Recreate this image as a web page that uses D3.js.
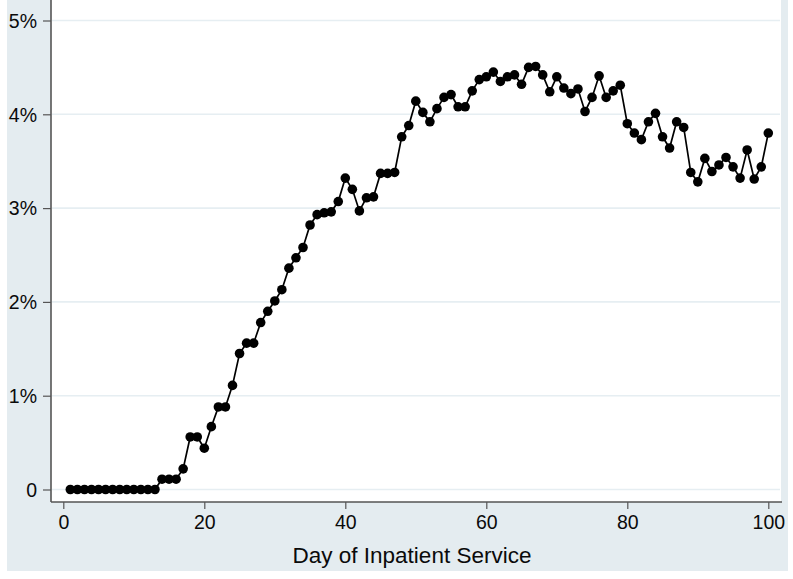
<!DOCTYPE html>
<html>
<head>
<meta charset="utf-8">
<script src="https://cdn.jsdelivr.net/npm/d3@7"></script>
<style>
  html, body { margin: 0; padding: 0; background: #fff; }
  svg text { font-family: "Liberation Sans", Arial, Helvetica, sans-serif; fill: #0a0a0a; }
</style>
</head>
<body>
<div id="graphicContainer"></div>
<script>

// share of patients (%) by day of inpatient service
var days = d3.range(1, 101)
var pct = [
	0, 0, 0, 0, 0, 0, 0, 0, 0, 0,
	0, 0, 0, 0.11, 0.11, 0.11, 0.22, 0.56, 0.56, 0.44,
	0.67, 0.88, 0.88, 1.11, 1.45, 1.56, 1.56, 1.78, 1.90, 2.01,
	2.13, 2.36, 2.47, 2.58, 2.82, 2.93, 2.95, 2.96, 3.07, 3.32,
	3.20, 2.97, 3.11, 3.12, 3.37, 3.37, 3.38, 3.76, 3.88, 4.14,
	4.02, 3.92, 4.06, 4.18, 4.21, 4.08, 4.08, 4.25, 4.37, 4.40,
	4.45, 4.35, 4.40, 4.42, 4.32, 4.50, 4.51, 4.42, 4.24, 4.40,
	4.28, 4.22, 4.27, 4.03, 4.18, 4.41, 4.18, 4.25, 4.31, 3.90,
	3.80, 3.73, 3.92, 4.01, 3.76, 3.64, 3.92, 3.86, 3.38, 3.28,
	3.53, 3.39, 3.46, 3.54, 3.44, 3.32, 3.62, 3.31, 3.44, 3.80
]
var xTicks = [0, 20, 40, 60, 80, 100]
var yTicks = [0, 1, 2, 3, 4, 5]
var yTickLabels = ["0", "1%", "2%", "3%", "4%", "5%"]
var xTitle = "Day of Inpatient Service"

var data = days.map((d, i) => ({day: d, value: pct[i]}))

var width = 793
var height = 579

var svg = d3.select("#graphicContainer").append("svg")
	.attr("width", width)
	.attr("height", height)

// outer panel and plot region
svg.append("rect")
	.attr("x", 7).attr("y", 0)
	.attr("width", 781).attr("height", 571)
	.attr("fill", "#e4ecf0")

var plot = {left: 51, right: 781, top: 0, bottom: 502}

svg.append("rect")
	.attr("x", plot.left).attr("y", plot.top)
	.attr("width", plot.right - plot.left).attr("height", plot.bottom - plot.top)
	.attr("fill", "#fff")

var x = d3.scaleLinear()
	.domain([0, 100])
	.range([63.3, 768.3])

var y = d3.scaleLinear()
	.domain([0, 5])
	.range([489.5, 20.5])

// horizontal grid
svg.append("g")
	.selectAll("line")
	.data(yTicks)
	.enter()
	.append("line")
	.attr("x1", plot.left + 1)
	.attr("x2", plot.right - 1)
	.attr("y1", d => y(d))
	.attr("y2", d => y(d))
	.attr("stroke", "#e6eef2")
	.attr("stroke-width", 1.6)

// y axis
var yAxis = d3.axisLeft(y)
	.tickValues(yTicks)
	.tickSize(8)
	.tickPadding(6)
	.tickFormat((d, i) => yTickLabels[i])

var gy = svg.append("g")
	.attr("transform", "translate(" + plot.left + ",0)")
	.call(yAxis)

gy.select(".domain").remove()
gy.selectAll("line").attr("stroke", "#555").attr("stroke-width", 1.2)
gy.selectAll("text").attr("font-size", 19.5).attr("dy", "0.35em")

// x axis
var xAxis = d3.axisBottom(x)
	.tickValues(xTicks)
	.tickSize(7)
	.tickPadding(6)

var gx = svg.append("g")
	.attr("transform", "translate(0," + plot.bottom + ")")
	.call(xAxis)

gx.select(".domain").remove()
gx.selectAll("line").attr("stroke", "#555").attr("stroke-width", 1.2)
gx.selectAll("text").attr("font-size", 19.5).attr("dy", "0.71em")

// axis lines
svg.append("line")
	.attr("x1", plot.left).attr("x2", plot.left)
	.attr("y1", plot.top).attr("y2", plot.bottom)
	.attr("stroke", "#555").attr("stroke-width", 1.6)

svg.append("line")
	.attr("x1", plot.left).attr("x2", plot.right + 1)
	.attr("y1", plot.bottom).attr("y2", plot.bottom)
	.attr("stroke", "#555").attr("stroke-width", 1.6)

svg.append("text")
	.attr("x", 412)
	.attr("y", 563)
	.attr("text-anchor", "middle")
	.attr("font-size", 22.5)
	.text(xTitle)

// series
var line = d3.line()
	.x(d => x(d.day))
	.y(d => y(d.value))

svg.append("path")
	.datum(data)
	.attr("d", line)
	.attr("fill", "none")
	.attr("stroke", "#000")
	.attr("stroke-width", 1.7)

svg.append("g")
	.selectAll("circle")
	.data(data)
	.enter()
	.append("circle")
	.attr("cx", d => x(d.day))
	.attr("cy", d => y(d.value))
	.attr("r", 4.8)
	.attr("fill", "#000")

</script>
</body>
</html>
